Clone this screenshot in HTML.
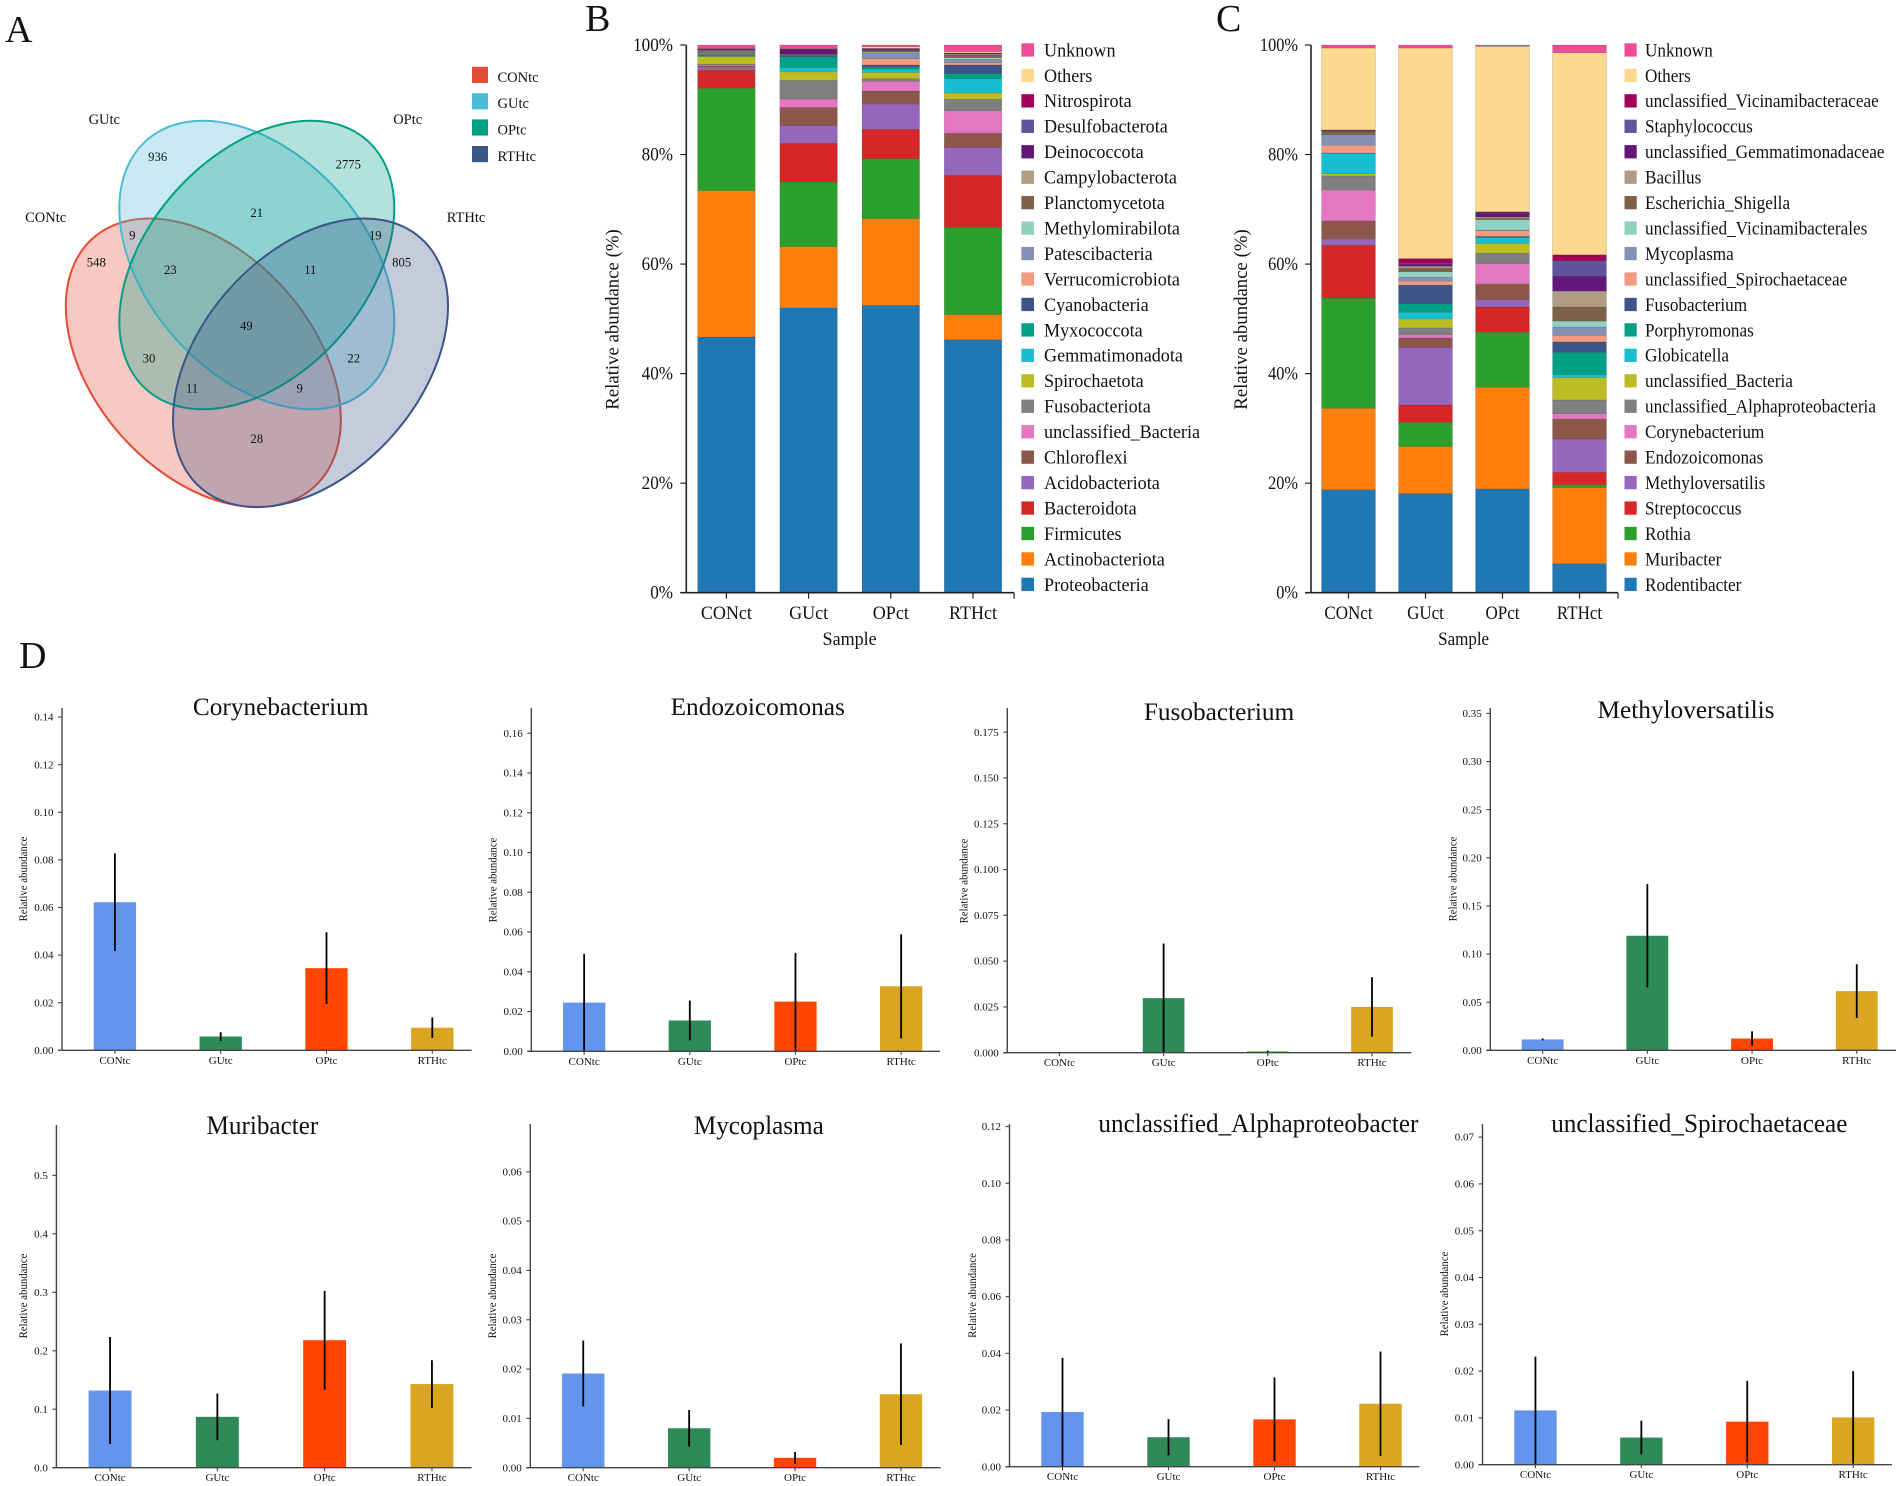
<!DOCTYPE html>
<html lang="en">
<head>
<meta charset="utf-8">
<title>Microbiome composition figure</title>
<style>
html,body{margin:0;padding:0;background:#fff;}
body{width:1902px;height:1486px;overflow:hidden;}
svg{display:block;}
text{font-family:"Liberation Serif","Times New Roman",serif;fill:#111;}
</style>
</head>
<body>
<svg id="figure" xmlns="http://www.w3.org/2000/svg" width="1902" height="1486" viewBox="0 0 1902 1486">
  <rect x="0" y="0" width="1902" height="1486" fill="#fff"/>
  <text x="5" y="42" font-size="38">A</text>
  <text x="585" y="31" font-size="38">B</text>
  <text x="1216" y="31" font-size="38">C</text>
  <text x="19" y="668" font-size="38">D</text>

  <g>
    <ellipse cx="203.3" cy="362.8" rx="166.4" ry="109.7" transform="rotate(48.5 203.3 362.8)" fill="#e64b35" fill-opacity="0.3" stroke="#e64b35" stroke-width="2"/>
    <ellipse cx="256.8" cy="265" rx="166.4" ry="109.7" transform="rotate(48.5 256.8 265)" fill="#4dbbd5" fill-opacity="0.3" stroke="#4dbbd5" stroke-width="2"/>
    <ellipse cx="256.8" cy="265" rx="166.4" ry="109.7" transform="rotate(-48.5 256.8 265)" fill="#00a087" fill-opacity="0.3" stroke="#00a087" stroke-width="2"/>
    <ellipse cx="310.5" cy="362.8" rx="166.4" ry="109.7" transform="rotate(-48.5 310.5 362.8)" fill="#3c5488" fill-opacity="0.3" stroke="#3c5488" stroke-width="2"/>
    <g font-size="14.5" text-anchor="middle">
      <text x="104.3" y="124.2">GUtc</text>
      <text x="407.7" y="124.2">OPtc</text>
      <text x="45.7" y="222.2">CONtc</text>
      <text x="466" y="222.2">RTHtc</text>
    </g>
    <g font-size="12.7" text-anchor="middle">
      <text x="157.7" y="161">936</text>
      <text x="348.3" y="168.3">2775</text>
      <text x="256.7" y="217">21</text>
      <text x="132.3" y="239.3">9</text>
      <text x="375.3" y="239.3">19</text>
      <text x="96.3" y="266.6">548</text>
      <text x="401.7" y="266.6">805</text>
      <text x="170.3" y="274">23</text>
      <text x="310.3" y="274">11</text>
      <text x="246.3" y="330">49</text>
      <text x="149" y="362.6">30</text>
      <text x="353.7" y="362.6">22</text>
      <text x="192" y="392.3">11</text>
      <text x="299.7" y="392.3">9</text>
      <text x="256.7" y="443">28</text>
    </g>
    <g font-size="14.5">
      <rect x="472" y="66.8" width="16" height="16.2" fill="#e64b35"/>
      <text x="497.5" y="82">CONtc</text>
      <rect x="472" y="93.2" width="16" height="16.2" fill="#4dbbd5"/>
      <text x="497.5" y="108.2">GUtc</text>
      <rect x="472" y="119.4" width="16" height="16.2" fill="#00a087"/>
      <text x="497.5" y="134.6">OPtc</text>
      <rect x="472" y="146" width="16" height="16.2" fill="#3c5488"/>
      <text x="497.5" y="161">RTHtc</text>
    </g>
  </g>
</svg>

<script>
/* ---------- stacked bar data ---------- */
const stackCategories = ['CONct', 'GUct', 'OPct', 'RTHct'];
const stackTickValues = [0, 20, 40, 60, 80, 100];
const stackPalette = ['#1f77b4','#ff7f0e','#2ca02c','#d62728','#9467bd','#8c564b','#e377c2','#7f7f7f','#bcbd22','#17becf','#00a087','#3c5488','#f39b7f','#8491b4','#91d1c2','#7e6148','#b09c85','#631879','#5f559b','#a20056','#fdd98f','#ee4c97'];

const phylumNames = ['Proteobacteria','Actinobacteriota','Firmicutes','Bacteroidota','Acidobacteriota','Chloroflexi','unclassified_Bacteria','Fusobacteriota','Spirochaetota','Gemmatimonadota','Myxococcota','Cyanobacteria','Verrucomicrobiota','Patescibacteria','Methylomirabilota','Planctomycetota','Campylobacterota','Deinococcota','Desulfobacterota','Nitrospirota','Others','Unknown'];
const phylumCONct = [46.7,26.7,18.7,3.3,0.6,0.2,0.2,0.1,1.4,0.1,0.2,0.1,0.1,0.1,0.1,0.2,0.2,0.2,0.1,0.1,0.1,0.5];
const phylumGUct  = [52.0,11.2,11.8,7.07,3.23,3.3,1.55,3.4,1.55,0.77,2.0,0.2,0.05,0.05,0.05,0.05,0.05,0.85,0.05,0.1,0.05,0.63];
const phylumOPct  = [52.46,15.84,10.97,5.33,4.64,2.36,1.77,0.49,1.14,0.56,0.44,0.35,1.15,1.0,0.2,0.2,0.1,0.2,0.1,0.1,0.3,0.3];
const phylumRTHct = [46.2,4.6,15.9,9.5,5.1,2.6,4.1,2.1,1.15,2.61,0.94,1.55,0.45,0.6,0.3,0.5,0.15,0.1,0.05,0.05,0.25,1.2];

const genusNames = ['Rodentibacter','Muribacter','Rothia','Streptococcus','Methyloversatilis','Endozoicomonas','Corynebacterium','unclassified_Alphaproteobacteria','unclassified_Bacteria','Globicatella','Porphyromonas','Fusobacterium','unclassified_Spirochaetaceae','Mycoplasma','unclassified_Vicinamibacterales','Escherichia_Shigella','Bacillus','unclassified_Gemmatimonadaceae','Staphylococcus','unclassified_Vicinamibacteraceae','Others','Unknown'];
const genusCONct = [18.8,14.86,20.14,9.66,1.14,3.3,5.65,2.55,0.4,3.74,0.03,0.03,1.4,1.9,0.05,0.55,0.05,0.1,0.05,0.1,14.95,0.55];
const genusGUct  = [18.1,8.6,4.4,3.17,10.49,1.74,0.6,1.25,1.65,1.2,1.57,3.4,0.73,0.7,1.0,0.67,0.33,0.4,0.15,0.85,38.45,0.55];
const genusOPct  = [18.96,18.54,10.06,4.6,1.34,2.85,3.75,1.9,1.77,1.09,0.04,0.15,1.05,0.1,1.9,0.23,0.27,0.7,0.1,0.15,30.2,0.25];
const genusRTHct = [5.3,13.9,0.5,2.3,6.05,3.65,1.0,2.5,4.1,0.5,4.1,1.9,1.2,1.5,1.1,2.56,2.91,2.73,2.8,1.1,36.9,1.4];

/* ---------- small bar chart data ---------- */
const groupLabels = ['CONtc', 'GUtc', 'OPtc', 'RTHtc'];
const groupColors = ['#6495ed', '#2e8b57', '#ff4500', '#daa520'];

const corynebacteriumMeans = [0.0622, 0.0058, 0.0345, 0.0095];
const corynebacteriumErrors = [0.0205, 0.0018, 0.0151, 0.0043];
const corynebacteriumTicks = [0, 0.02, 0.04, 0.06, 0.08, 0.10, 0.12, 0.14];

const endozoicomonasMeans = [0.0245, 0.0155, 0.025, 0.0327];
const endozoicomonasErrors = [0.0245, 0.01, 0.0245, 0.0262];
const endozoicomonasTicks = [0, 0.02, 0.04, 0.06, 0.08, 0.10, 0.12, 0.14, 0.16];

const fusobacteriumMeans = [0, 0.0298, 0.0007, 0.025];
const fusobacteriumErrors = [0, 0.0298, 0.0005, 0.0162];
const fusobacteriumTicks = [0, 0.025, 0.05, 0.075, 0.1, 0.125, 0.15, 0.175];

const methyloversatilisMeans = [0.0113, 0.119, 0.0122, 0.0615];
const methyloversatilisErrors = [0.001, 0.0536, 0.0075, 0.0279];
const methyloversatilisTicks = [0, 0.05, 0.10, 0.15, 0.20, 0.25, 0.30, 0.35];

const muribacterMeans = [0.132, 0.087, 0.218, 0.143];
const muribacterErrors = [0.0915, 0.04, 0.0844, 0.0408];
const muribacterTicks = [0, 0.1, 0.2, 0.3, 0.4, 0.5];

const mycoplasmaMeans = [0.0191, 0.008, 0.002, 0.0149];
const mycoplasmaErrors = [0.0067, 0.0037, 0.0012, 0.0103];
const mycoplasmaTicks = [0, 0.01, 0.02, 0.03, 0.04, 0.05, 0.06];

const alphaproteobacterMeans = [0.0193, 0.0104, 0.0167, 0.0222];
const alphaproteobacterErrors = [0.0191, 0.0064, 0.0148, 0.0184];
const alphaproteobacterTicks = [0, 0.02, 0.04, 0.06, 0.08, 0.10, 0.12];

const spirochaetaceaeMeans = [0.0116, 0.0058, 0.0092, 0.0101];
const spirochaetaceaeErrors = [0.0115, 0.0036, 0.0087, 0.0099];
const spirochaetaceaeTicks = [0, 0.01, 0.02, 0.03, 0.04, 0.05, 0.06, 0.07];

/* ---------- helpers ---------- */
const NS = 'http://www.w3.org/2000/svg';
const figure = document.getElementById('figure');

function mk(tag, parent, attrs) {
  const node = document.createElementNS(NS, tag);
  for (const key in attrs) node.setAttribute(key, attrs[key]);
  parent.appendChild(node);
  return node;
}

function label(parent, str, x, y, size, anchor, sx) {
  const node = mk('text', parent, {
    transform: 'translate(' + x + ' ' + y + ') scale(' + (sx || 1) + ' 1)',
    'font-size': size,
    'text-anchor': anchor || 'start'
  });
  node.textContent = str;
  return node;
}

/* ---------- stacked bar panel ---------- */
function drawStack(cfg) {
  const group = mk('g', figure, {});
  
  

  const yScale = function (v) { return cfg.y0 - (v / 100) * (cfg.y0 - cfg.y100); };
  const xBand = function (i) { return cfg.x0 + i * cfg.band; };
  const barW = cfg.band * 0.7;

  cfg.columns.forEach(function (column, c) {
    let cum = 0;
    column.forEach(function (value, s) {
      const top = yScale(cum + value);
      const bottom = yScale(cum);
      cum += value;
      const seg = mk('rect', group, {
        x: xBand(c) + (cfg.band - barW) / 2,
        y: top,
        width: barW,
        height: Math.max(0, bottom - top),
        fill: stackPalette[s],
        stroke: 'rgba(40,40,40,0.28)',
        'stroke-width': 0.5
      });
      
      
    });
  });

  const yAxis = mk('line', group, { x1: cfg.x0 + 1, x2: cfg.x0 + 1, y1: cfg.y100, y2: cfg.y0, stroke: '#222', 'stroke-width': 1.6 });
  
  

  const xAxis = mk('line', group, { x1: cfg.x0 - 5, x2: xBand(4), y1: cfg.y0, y2: cfg.y0, stroke: '#222', 'stroke-width': 1.6 });
  
  

  stackTickValues.forEach(function (v) {
    const y = yScale(v);
    const tick = mk('line', group, { x1: cfg.x0 - 5, x2: cfg.x0 + 1, y1: y, y2: y, stroke: '#222', 'stroke-width': 1.2 });
    
    
    const text = label(group, v + '%', cfg.tickRight, y + 6, 19, 'end', cfg.tickScale);
    
    
  });

  stackCategories.forEach(function (cat, i) {
    const cx = xBand(i) + cfg.band / 2;
    const tick = mk('line', group, { x1: cx, x2: cx, y1: cfg.y0, y2: cfg.y0 + 6, stroke: '#222', 'stroke-width': 1.2 });
    
    
    const text = label(group, cat, cx, 619, 19, 'middle', cfg.catScale);
    
    
  });

  const endTick = mk('line', group, { x1: xBand(4), x2: xBand(4), y1: cfg.y0, y2: cfg.y0 + 6, stroke: '#222', 'stroke-width': 1.2 });
  
  

  const xTitle = label(group, 'Sample', cfg.sampleX, 645, 19, 'middle', cfg.catScale);
  
  

  const yTitle = mk('text', group, { transform: 'translate(' + cfg.yTitleX + ' 319.5) rotate(-90)', 'font-size': 18.8, 'text-anchor': 'middle' });
  yTitle.textContent = 'Relative abundance (%)';
  
  

  const count = cfg.names.length;
  cfg.names.forEach(function (name, s) {
    const row = count - 1 - s;
    const top = 43.3 + row * 25.45;
    const swatch = mk('rect', group, { x: cfg.legendX, y: top, width: cfg.swatchW, height: 13.3, fill: stackPalette[s] });
    
    
    const text = label(group, name, cfg.legendTextX, top + 13, 19, 'start', cfg.legendScale);
    
    
  });
}

drawStack({
  name: 'phylum-stacked-chart',
  names: phylumNames,
  columns: [phylumCONct, phylumGUct, phylumOPct, phylumRTHct],
  x0: 685.3, band: 82.2, y0: 592.7, y100: 45,
  tickRight: 673, tickScale: 0.9, catScale: 0.95, legendScale: 0.955,
  sampleX: 849.6, yTitleX: 618.5,
  legendX: 1021.4, swatchW: 12.6, legendTextX: 1044
});

drawStack({
  name: 'genus-stacked-chart',
  names: genusNames,
  columns: [genusCONct, genusGUct, genusOPct, genusRTHct],
  x0: 1310, band: 77, y0: 592.7, y100: 45,
  tickRight: 1298, tickScale: 0.86, catScale: 0.895, legendScale: 0.905,
  sampleX: 1463.6, yTitleX: 1247,
  legendX: 1624.5, swatchW: 12.2, legendTextX: 1645
});

/* ---------- small bar panels ---------- */
function drawBars(cfg) {
  const group = mk('g', figure, {});
  
  

  const yScale = function (v) { return cfg.y0 - (v / cfg.yMax) * (cfg.y0 - cfg.yTop); };
  const xScale = function (i) { return cfg.axisX + (i + 0.5) * cfg.band; };
  const barW = cfg.band * 0.4;

  cfg.means.forEach(function (mean, i) {
    const bar = mk('rect', group, {
      x: xScale(i) - barW / 2,
      y: yScale(mean),
      width: barW,
      height: cfg.y0 - yScale(mean),
      fill: groupColors[i]
    });
    
    
  });

  cfg.means.forEach(function (mean, i) {
    const err = cfg.errors[i];
    const line = mk('line', group, {
      x1: xScale(i), x2: xScale(i),
      y1: yScale(mean + err),
      y2: yScale(Math.max(0, mean - err)),
      stroke: '#000', 'stroke-width': 1.8
    });
    
    
  });

  const yAxis = mk('line', group, { x1: cfg.axisX, x2: cfg.axisX, y1: cfg.yTop, y2: cfg.y0, stroke: '#444', 'stroke-width': 1.4 });
  
  

  const xAxis = mk('line', group, { x1: cfg.axisX - 4, x2: cfg.xEnd, y1: cfg.y0, y2: cfg.y0, stroke: '#444', 'stroke-width': 1.4 });
  
  

  cfg.ticks.forEach(function (v) {
    const y = yScale(v);
    const tick = mk('line', group, { x1: cfg.axisX - 4, x2: cfg.axisX, y1: y, y2: y, stroke: '#444', 'stroke-width': 1.1 });
    
    
    const text = label(group, v.toFixed(cfg.decimals), cfg.axisX - 8.5, y + 3.6, 11, 'end');
    
    
  });

  groupLabels.forEach(function (name, i) {
    const cx = xScale(i);
    const tick = mk('line', group, { x1: cx, x2: cx, y1: cfg.y0, y2: cfg.y0 + 3.5, stroke: '#444', 'stroke-width': 1.1 });
    
    
    const text = label(group, name, cx, cfg.y0 + 13.5, 11, 'middle');
    
    
  });

  const yTitle = mk('text', group, { transform: 'translate(' + cfg.yTitleX + ' ' + cfg.yTitleY + ') rotate(-90) scale(0.9 1)', 'font-size': 12, 'text-anchor': 'middle' });
  yTitle.textContent = 'Relative abundance';
  
  

  const title = label(group, cfg.title, cfg.titleX, cfg.titleY, cfg.titleSize, 'middle', cfg.titleScale);
  
  
}

drawBars({ name: 'corynebacterium-chart', title: 'Corynebacterium', means: corynebacteriumMeans, errors: corynebacteriumErrors, ticks: corynebacteriumTicks, decimals: 2,
  axisX: 62, band: 105.8, xEnd: 471.7, yTop: 708, y0: 1050.3, yMax: 0.1438, titleX: 280.7, titleY: 715, titleSize: 25.3, titleScale: 1, yTitleX: 27, yTitleY: 879 });
drawBars({ name: 'endozoicomonas-chart', title: 'Endozoicomonas', means: endozoicomonasMeans, errors: endozoicomonasErrors, ticks: endozoicomonasTicks, decimals: 2,
  axisX: 531.3, band: 105.67, xEnd: 940, yTop: 708, y0: 1051.3, yMax: 0.1727, titleX: 757.7, titleY: 715, titleSize: 25.3, titleScale: 1, yTitleX: 496.5, yTitleY: 880 });
drawBars({ name: 'fusobacterium-chart', title: 'Fusobacterium', means: fusobacteriumMeans, errors: fusobacteriumErrors, ticks: fusobacteriumTicks, decimals: 3,
  axisX: 1007.3, band: 104.2, xEnd: 1411.3, yTop: 708, y0: 1052.7, yMax: 0.1882, titleX: 1219, titleY: 720, titleSize: 25.3, titleScale: 1, yTitleX: 967.5, yTitleY: 881 });
drawBars({ name: 'methyloversatilis-chart', title: 'Methyloversatilis', means: methyloversatilisMeans, errors: methyloversatilisErrors, ticks: methyloversatilisTicks, decimals: 2,
  axisX: 1490.3, band: 104.7, xEnd: 1896, yTop: 708, y0: 1050.3, yMax: 0.3556, titleX: 1686, titleY: 718, titleSize: 25.3, titleScale: 1, yTitleX: 1456.5, yTitleY: 879 });
drawBars({ name: 'muribacter-chart', title: 'Muribacter', means: muribacterMeans, errors: muribacterErrors, ticks: muribacterTicks, decimals: 1,
  axisX: 56.4, band: 107.3, xEnd: 471.5, yTop: 1125, y0: 1467.7, yMax: 0.5861, titleX: 262.4, titleY: 1134, titleSize: 26.5, titleScale: 0.95, yTitleX: 27, yTitleY: 1296 });
drawBars({ name: 'mycoplasma-chart', title: 'Mycoplasma', means: mycoplasmaMeans, errors: mycoplasmaErrors, ticks: mycoplasmaTicks, decimals: 2,
  axisX: 530.3, band: 105.9, xEnd: 940.6, yTop: 1124, y0: 1467.7, yMax: 0.0697, titleX: 758.8, titleY: 1134, titleSize: 26.5, titleScale: 0.95, yTitleX: 496, yTitleY: 1296 });
drawBars({ name: 'unclassified-alphaproteobacter-chart', title: 'unclassified_Alphaproteobacter', means: alphaproteobacterMeans, errors: alphaproteobacterErrors, ticks: alphaproteobacterTicks, decimals: 2,
  axisX: 1009.5, band: 106, xEnd: 1419.3, yTop: 1124, y0: 1466.7, yMax: 0.1209, titleX: 1258.4, titleY: 1132, titleSize: 26.5, titleScale: 0.95, yTitleX: 976, yTitleY: 1295.5 });
drawBars({ name: 'unclassified-spirochaetaceae-chart', title: 'unclassified_Spirochaetaceae', means: spirochaetaceaeMeans, errors: spirochaetaceaeErrors, ticks: spirochaetaceaeTicks, decimals: 2,
  axisX: 1482.5, band: 105.9, xEnd: 1892, yTop: 1124, y0: 1464.7, yMax: 0.0728, titleX: 1699.3, titleY: 1132, titleSize: 26.5, titleScale: 0.95, yTitleX: 1448, yTitleY: 1294 });
</script>
</body>
</html>
